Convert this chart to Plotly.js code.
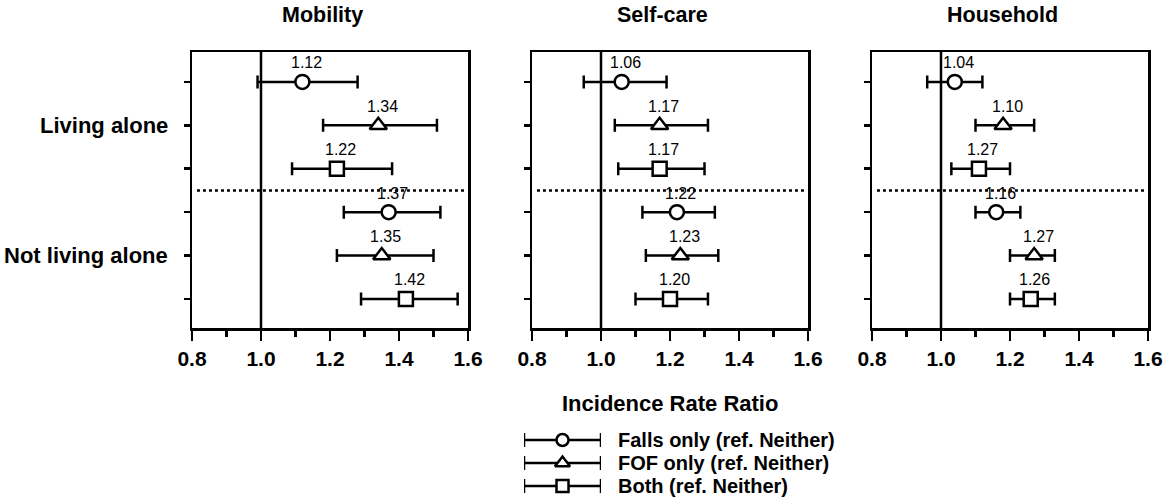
<!DOCTYPE html>
<html>
<head>
<meta charset="utf-8">
<script src="https://cdn.plot.ly/plotly-3.0.1.min.js"></script>
<style>html,body{margin:0;padding:0;background:#fff;}#chart{width:1170px;height:504px;}</style>
</head>
<body>
<div id="chart"></div>
<script>
// ---------- DATA ----------
var panels = ["Mobility", "Self-care", "Household"];
var groups = ["Living alone", "Not living alone"];
var series = ["Falls only (ref. Neither)", "FOF only (ref. Neither)", "Both (ref. Neither)"];
var axisTitle = "Incidence Rate Ratio";
var tickValues = [0.8, 1.0, 1.2, 1.4, 1.6];
var minorTickValues = [0.9, 1.1, 1.3, 1.5];
var referenceValue = 1.0;

// rows ordered: Living alone (Falls, FOF, Both), Not living alone (Falls, FOF, Both)
var mobilityEst = [1.12, 1.34, 1.22, 1.37, 1.35, 1.42];
var mobilityLo  = [0.99, 1.18, 1.09, 1.24, 1.22, 1.29];
var mobilityHi  = [1.28, 1.51, 1.38, 1.52, 1.50, 1.57];
var mobilityLabels = ["1.12", "1.34", "1.22", "1.37", "1.35", "1.42"];

var selfcareEst = [1.06, 1.17, 1.17, 1.22, 1.23, 1.20];
var selfcareLo  = [0.95, 1.04, 1.05, 1.12, 1.13, 1.10];
var selfcareHi  = [1.19, 1.31, 1.30, 1.33, 1.34, 1.31];
var selfcareLabels = ["1.06", "1.17", "1.17", "1.22", "1.23", "1.20"];

var householdEst = [1.04, 1.18, 1.11, 1.16, 1.27, 1.26];
var householdLo  = [0.96, 1.10, 1.03, 1.10, 1.20, 1.20];
var householdHi  = [1.12, 1.27, 1.20, 1.23, 1.33, 1.33];
var householdLabels = ["1.04", "1.10", "1.27", "1.16", "1.27", "1.26"];

// ---------- STYLE / LAYOUT ----------
var W = 1170, H = 504;
var FONT = "Liberation Sans, Arial, Helvetica, sans-serif";
var symbols = ["circle", "triangle-up", "square"];
var symbolSizes = [14, 15, 14];
var LW = 2.5;
var panelPx = [[192, 468], [532, 808], [872, 1148]];
var plotTop = 52, plotBottom = 328;
function px(x) { return x / W; }
function py(y) { return 1 - y / H; }

var panelData = [
  {est: mobilityEst, lo: mobilityLo, hi: mobilityHi, labels: mobilityLabels},
  {est: selfcareEst, lo: selfcareLo, hi: selfcareHi, labels: selfcareLabels},
  {est: householdEst, lo: householdLo, hi: householdHi, labels: householdLabels}
];

var nRows = groups.length * series.length;
function rowY(g, k) { return nRows - (g * series.length + k); }

var traces = [];
var annotations = [];
var shapes = [];
var layout = {
  width: W, height: H,
  margin: {l: 0, r: 0, t: 0, b: 0},
  paper_bgcolor: "#fff", plot_bgcolor: "#fff",
  showlegend: false,
  font: {family: FONT, color: "#000"}
};

panelData.forEach(function (pd, p) {
  var ax = p === 0 ? "" : String(p + 1);
  for (var k = 0; k < series.length; k++) {
    var xs = [], ys = [], ep = [], em = [];
    for (var g = 0; g < groups.length; g++) {
      var i = g * series.length + k;
      xs.push(pd.est[i]);
      ys.push(rowY(g, k));
      ep.push(pd.hi[i] - pd.est[i]);
      em.push(pd.est[i] - pd.lo[i]);
    }
    traces.push({
      type: "scatter", mode: "markers",
      x: xs, y: ys, xaxis: "x" + ax, yaxis: "y" + ax,
      name: series[k], hoverinfo: "skip",
      marker: {symbol: symbols[k], size: symbolSizes[k], color: "#fff", line: {color: "#000", width: LW}},
      error_x: {type: "data", symmetric: false, array: ep, arrayminus: em, color: "#000", thickness: LW, width: 6.5}
    });
  }
  for (var g2 = 0; g2 < groups.length; g2++) {
    for (var k2 = 0; k2 < series.length; k2++) {
      var j = g2 * series.length + k2;
      annotations.push({
        xref: "x" + ax, yref: "y" + ax, x: pd.est[j], y: rowY(g2, k2),
        text: pd.labels[j], showarrow: false, yshift: 19, xshift: 4,
        font: {family: FONT, size: 16, color: "#000"}
      });
    }
  }
  layout["xaxis" + ax] = {
    domain: [px(panelPx[p][0]), px(panelPx[p][1])],
    range: [tickValues[0], tickValues[tickValues.length - 1]],
    anchor: "y" + ax,
    tickmode: "array", tickvals: tickValues,
    ticktext: tickValues.map(function (v) { return v.toFixed(1); }),
    ticks: "outside", ticklen: 10, tickwidth: LW, tickcolor: "#000",
    minor: {tickmode: "array", tickvals: minorTickValues, ticks: "outside", ticklen: 6, tickwidth: LW, tickcolor: "#000", showgrid: false},
    showline: true, linecolor: "#000", linewidth: LW, mirror: true,
    showgrid: false, zeroline: false, fixedrange: true,
    tickfont: {family: FONT, size: 21, color: "#000", weight: "bold"}
  };
  layout["yaxis" + ax] = {
    domain: [py(plotBottom), py(plotTop)],
    range: [0.33, 6.69],
    anchor: "x" + ax,
    tickmode: "array", tickvals: [1, 2, 3, 4, 5, 6],
    ticks: "outside", ticklen: 6, tickwidth: LW, tickcolor: "#000",
    showticklabels: false,
    showline: true, linecolor: "#000", linewidth: LW, mirror: true,
    showgrid: false, zeroline: false, fixedrange: true
  };
  // reference line at IRR = 1
  shapes.push({type: "line", xref: "x" + ax, yref: "y" + ax + " domain",
    x0: referenceValue, x1: referenceValue, y0: 0, y1: 1, line: {color: "#000", width: LW}});
  // group divider
  shapes.push({type: "line", xref: "x" + ax + " domain", yref: "y" + ax,
    x0: 0.018, x1: 0.99, y0: nRows - series.length + 0.5, y1: nRows - series.length + 0.5,
    line: {color: "#000", width: 2.5, dash: "dot"}});
  // panel title
  annotations.push({
    xref: "paper", yref: "paper",
    x: px((panelPx[p][0] + panelPx[p][1]) / 2 - 8), y: py(15),
    text: "<b>" + panels[p] + "</b>", showarrow: false,
    xanchor: "center", yanchor: "middle",
    font: {family: FONT, size: 21.5, color: "#000"}
  });
});

// group labels
groups.forEach(function (gname, g) {
  annotations.push({
    xref: "paper", yref: "y", x: px(170), y: rowY(g, 1),
    text: "<b>" + gname + "</b>", showarrow: false,
    xanchor: "right", yanchor: "middle",
    font: {family: FONT, size: 22, color: "#000"}
  });
});

// axis title (shared)
annotations.push({
  xref: "paper", yref: "paper", x: px(670), y: py(403),
  text: "<b>" + axisTitle + "</b>", showarrow: false,
  xanchor: "center", yanchor: "middle",
  font: {family: FONT, size: 22, color: "#000"}
});

// legend keys on a hidden axis
layout.xaxis4 = {domain: [px(524), px(601)], range: [0, 1], visible: false, fixedrange: true, anchor: "y4"};
layout.yaxis4 = {domain: [py(497.5), py(428.5)], range: [0.5, series.length + 0.5], visible: false, fixedrange: true, anchor: "x4"};
series.forEach(function (s, k) {
  var mid = (layout.xaxis4.range[0] + layout.xaxis4.range[1]) / 2;
  var half = (layout.xaxis4.range[1] - layout.xaxis4.range[0]) / 2;
  traces.push({
    type: "scatter", mode: "markers", x: [mid], y: [series.length - k],
    xaxis: "x4", yaxis: "y4", hoverinfo: "skip",
    marker: {symbol: symbols[k], size: symbolSizes[k] - 2, color: "#fff", line: {color: "#000", width: LW}},
    error_x: {type: "constant", value: half, color: "#000", thickness: LW, width: 7}
  });
  annotations.push({
    xref: "paper", yref: "y4", x: px(616), y: series.length - k,
    text: "<b>" + s + "</b>", showarrow: false,
    xanchor: "left", yanchor: "middle",
    font: {family: FONT, size: 20, color: "#000"}
  });
});

layout.annotations = annotations;
layout.shapes = shapes;

Plotly.newPlot("chart", traces, layout, {displayModeBar: false, staticPlot: true});
</script>
</body>
</html>
